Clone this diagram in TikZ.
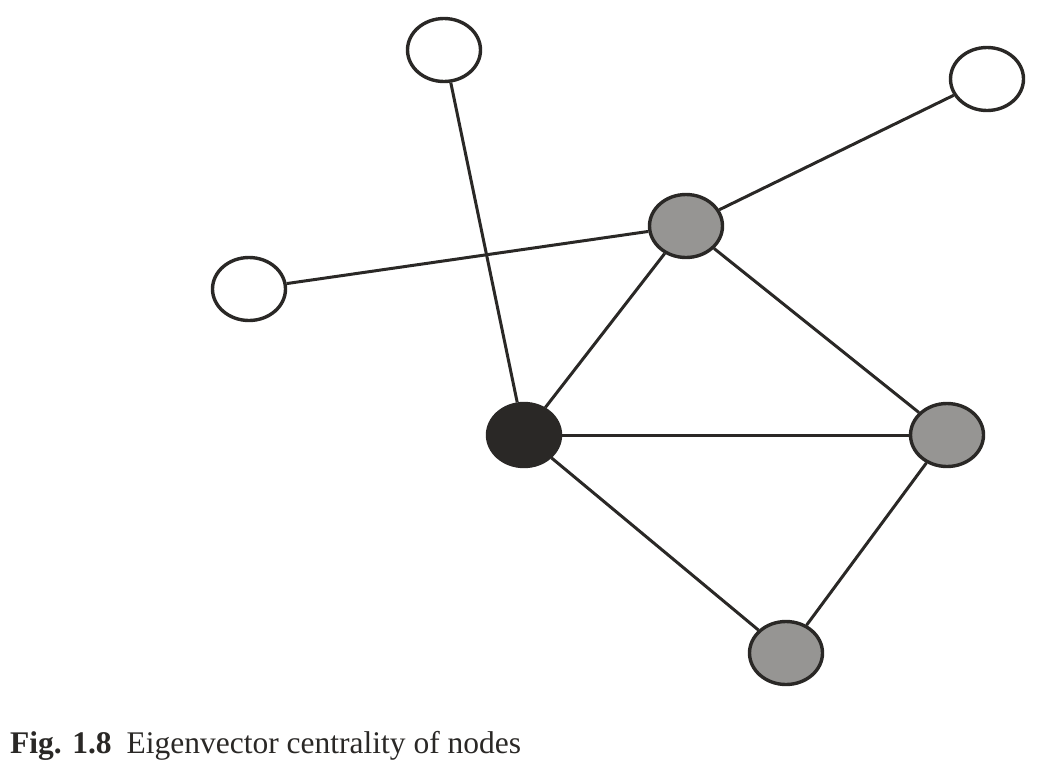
\documentclass[tikz,border=0pt]{standalone}
\usepackage{fontspec}
\setmainfont{Liberation Serif}
\usetikzlibrary{shapes.geometric}
\definecolor{ink}{HTML}{2A2826}
\definecolor{midgray}{HTML}{969593}
\begin{document}
\begin{tikzpicture}[x=1pt,y=-1pt,
  vert/.style={ellipse,draw=ink,line width=3.4pt,minimum width=73pt,minimum height=63pt,inner sep=0pt},
  white/.style={vert,fill=white},
  grey/.style={vert,fill=midgray},
  dark/.style={vert,fill=ink},
  edge/.style={draw=ink,line width=3pt}]
\useasboundingbox (0,0) rectangle (1046,772);
\node[white] (a) at (444,50) {};
\node[white] (b) at (987,79) {};
\node[white] (c) at (249,289) {};
\node[grey] (d) at (686,226) {};
\node[dark] (e) at (524,435) {};
\node[grey] (f) at (947,435) {};
\node[grey] (g) at (786,653) {};
\path[edge] (a) -- (e);
\path[edge] (b) -- (d);
\path[edge] (c) -- (d);
\path[edge] (d) -- (e);
\path[edge] (d) -- (f);
\path[edge] (e) -- (f);
\path[edge] (e) -- (g);
\path[edge] (f) -- (g);
\node[anchor=base west,inner sep=0pt,text=ink,font=\fontsize{31.5}{36}\selectfont] (cap) at (10,753) {\textbf{Fig. 1.8}\hspace{15pt}Eigenvector centrality of nodes};
\end{tikzpicture}
\end{document}
